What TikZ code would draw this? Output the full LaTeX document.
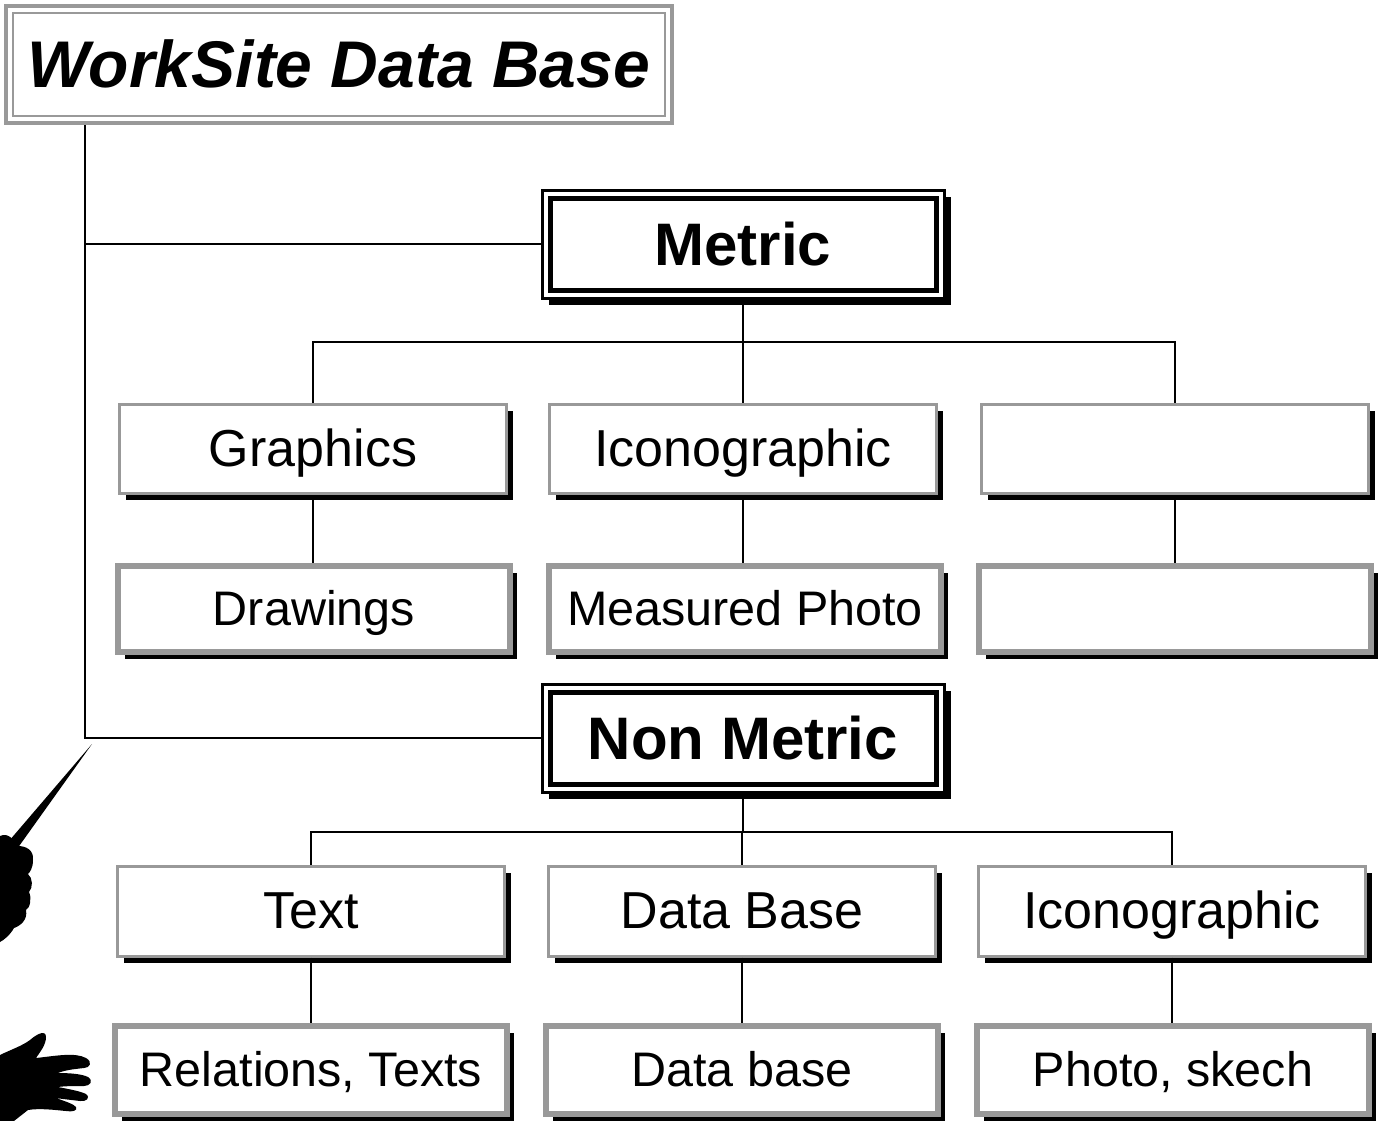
\documentclass[tikz,border=0pt]{standalone}
\usepackage{fontspec}
\setmainfont{Liberation Sans}
\usetikzlibrary{shadows}
\usetikzlibrary{calc}
\definecolor{framegray}{gray}{0.6}

\tikzset{
  link/.style={line width=1.8pt},
  titlebox/.style={draw=framegray, line width=4pt, fill=white, inner sep=0pt,
    minimum width=666pt, minimum height=117pt,
    text height=47pt, text depth=0pt,
    font=\fontsize{66pt}{72pt}\selectfont\bfseries\itshape,
    path picture={\draw[framegray, line width=2pt]
      ([shift={(7pt,-7pt)}]path picture bounding box.north west) rectangle
      ([shift={(-7pt,7pt)}]path picture bounding box.south east);}},
  catbox/.style={draw, line width=3pt, fill=white, inner sep=0pt,
    minimum width=402pt, minimum height=108pt,
    text height=43pt, text depth=0pt,
    font=\fontsize{60pt}{66pt}\selectfont\bfseries,
    drop shadow={shadow xshift=6.5pt, shadow yshift=-6.5pt, fill=black, opacity=1},
    path picture={\draw[line width=5pt]
      ([shift={(8pt,-8pt)}]path picture bounding box.north west) rectangle
      ([shift={(-8pt,8pt)}]path picture bounding box.south east);}},
  itembox/.style={draw=framegray, line width=3pt, fill=white, inner sep=0pt,
    minimum width=387pt, minimum height=89pt,
    text height=37pt, text depth=3pt,
    font=\fontsize{52pt}{58pt}\selectfont,
    drop shadow={shadow xshift=6.5pt, shadow yshift=-6.5pt, fill=black, opacity=1}},
  leafbox/.style={itembox, line width=5.5pt,
    minimum width=392pt, minimum height=86pt,
    text height=35pt, text depth=3pt,
    font=\fontsize{48.5pt}{54pt}\selectfont},
}

\begin{document}
\begin{tikzpicture}[x=1pt,y=-1pt]
  \useasboundingbox (0,0) rectangle (1378,1121);

  \node[titlebox] (wsdb) at (339,64.5) {WorkSite Data Base};

  \node[catbox] (metric) at (743,244) {Metric};
  \node[catbox] (nonmetric) at (743,738) {Non Metric};

  % metric branch
  \node[itembox] (graphics) at (313,449) {Graphics};
  \node[itembox] (icon1) at (743,449) {Iconographic};
  \node[itembox] (blank1) at (1175,449) {};
  \node[leafbox] (drawings) at (314,609) {Drawings};
  \node[leafbox] (mphoto) at (745,609) {Measured Photo};
  \node[leafbox] (blank2) at (1175,609) {};

  % non metric branch
  \node[itembox, minimum height=90pt] (text) at (311,911) {Text};
  \node[itembox, minimum height=90pt] (dbase) at (742,911) {Data Base};
  \node[itembox, minimum height=90pt] (icon2) at (1172,911) {Iconographic};
  \node[leafbox, minimum height=88pt] (reltext) at (311,1070) {Relations, Texts};
  \node[leafbox, minimum height=88pt] (dbase2) at (742,1070) {Data base};
  \node[leafbox, minimum height=88pt] (photo) at (1173,1070) {Photo, skech};

  \coordinate (trunk) at (85,738);
  \coordinate (mbus) at (743,342);
  \coordinate (nbus) at (743,832);

  \draw[link] (wsdb.south west -| trunk) -- (trunk) -- (nonmetric.west);
  \draw[link] (trunk |- metric.west) -- (metric.west);

  \draw[link] (metric.south) -- (mbus);
  \draw[link] (graphics.north) |- (mbus) -| (blank1.north);
  \draw[link] (mbus) -- (icon1.north);
  \draw[link] (graphics.south) -- (graphics.south |- drawings.north);
  \draw[link] (icon1.south) -- (icon1.south |- mphoto.north);
  \draw[link] (blank1.south) -- (blank1.south |- blank2.north);

  \draw[link] (nonmetric.south) -- (nbus);
  \draw[link] (text.north) |- (nbus) -| (icon2.north);
  \draw[link] (dbase.north) -- (dbase.north |- nbus);
  \draw[link] (text.south) -- (text.south |- reltext.north);
  \draw[link] (dbase.south) -- (dbase.south |- dbase2.north);
  \draw[link] (icon2.south) -- (icon2.south |- photo.north);

  % hand with pointer
  \fill (92,744) -- (3,848) -- (12,856) -- cycle;
  \fill (0,836) .. controls (8,832) and (14,840) .. (18,846)
    .. controls (26,846) and (34,850) .. (33,860)
    .. controls (33,868) and (30,872) .. (28,874)
    .. controls (33,878) and (33,888) .. (29,892)
    .. controls (32,898) and (30,908) .. (26,910)
    .. controls (28,920) and (20,926) .. (14,928)
    .. controls (10,935) and (4,940) .. (0,942) -- cycle;

  % open hand
  \fill (0,1055) .. controls (10,1050) and (22,1046) .. (30,1040)
    .. controls (38,1033) and (46,1030) .. (46,1037)
    .. controls (46,1045) and (40,1052) .. (36,1058)
    .. controls (55,1056) and (75,1052) .. (86,1058)
    .. controls (93,1062) and (90,1068) .. (84,1068)
    .. controls (75,1069) and (65,1070) .. (58,1073)
    .. controls (70,1073) and (82,1074) .. (88,1077)
    .. controls (94,1081) and (90,1086) .. (84,1086)
    .. controls (75,1086) and (65,1086) .. (58,1087)
    .. controls (68,1089) and (80,1091) .. (86,1094)
    .. controls (91,1098) and (86,1102) .. (80,1101)
    .. controls (72,1100) and (62,1099) .. (56,1098)
    .. controls (64,1101) and (74,1104) .. (76,1107)
    .. controls (78,1111) and (72,1112) .. (66,1111)
    .. controls (55,1110) and (40,1108) .. (28,1110)
    -- (14,1121) -- (0,1121) -- cycle;
\end{tikzpicture}
\end{document}
